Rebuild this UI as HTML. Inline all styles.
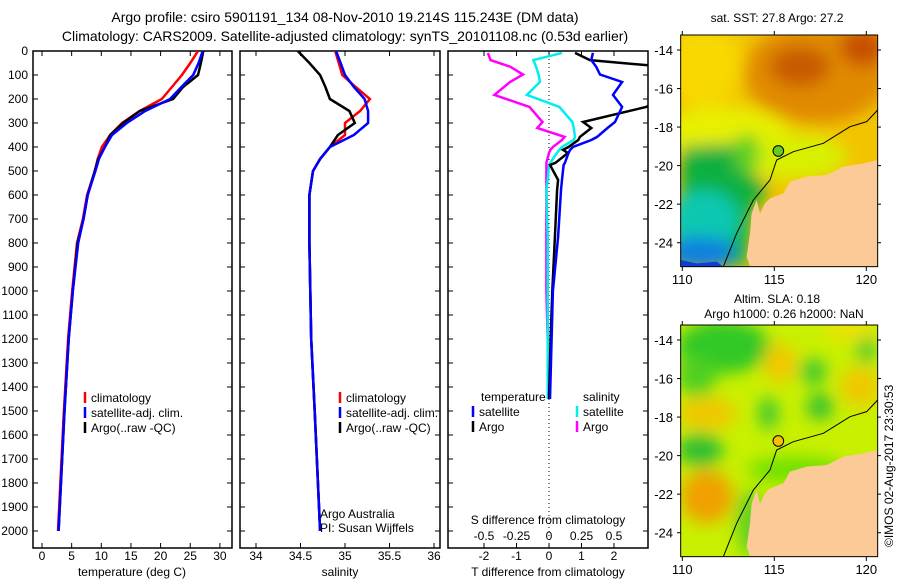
<!DOCTYPE html>
<html><head><meta charset="utf-8">
<style>
body{margin:0;background:#fff;}
svg{display:block;font-family:"Liberation Sans",sans-serif;}
</style></head>
<body>
<svg id="fig" width="900" height="580" viewBox="0 0 900 580" xmlns="http://www.w3.org/2000/svg">
<defs>
<clipPath id="c1"><rect x="33" y="51" width="199" height="497"/></clipPath>
<clipPath id="c2"><rect x="240" y="51" width="200" height="497"/></clipPath>
<clipPath id="c3"><rect x="448" y="51" width="200" height="497"/></clipPath>
<clipPath id="cm"><rect x="92" y="105" width="591" height="695"/></clipPath>
<filter id="bl" x="-50%" y="-50%" width="200%" height="200%"><feGaussianBlur stdDeviation="25"/></filter>
</defs>
<text x="345" y="22" font-size="14" text-anchor="middle">Argo profile: csiro 5901191_134 08-Nov-2010 19.214S 115.243E (DM data)</text>
<text x="345" y="41" font-size="14" text-anchor="middle">Climatology: CARS2009. Satellite-adjusted climatology: synTS_20101108.nc (0.53d earlier)</text>

<!-- Map 1 -->
<g transform="translate(650,0) scale(0.33333)">
<g clip-path="url(#cm)">
<rect x="92" y="105" width="591" height="695" fill="#f2c400"/>
<g filter="url(#bl)">
<ellipse cx="500" cy="220" rx="220" ry="150" fill="#e08a00"/>
<ellipse cx="450" cy="200" rx="90" ry="60" fill="#c85a00"/>
<ellipse cx="640" cy="140" rx="70" ry="60" fill="#c85000"/>
<ellipse cx="160" cy="200" rx="120" ry="120" fill="#f8d800"/>
<ellipse cx="220" cy="400" rx="200" ry="80" fill="#e8f000"/>
<ellipse cx="430" cy="470" rx="160" ry="70" fill="#d8f000"/>
<polygon points="92,440 260,430 300,520 360,570 310,620 290,800 92,800" fill="#10b040"/>
<ellipse cx="160" cy="660" rx="110" ry="90" fill="#10c8b0"/>
<ellipse cx="150" cy="760" rx="110" ry="50" fill="#1080e0"/>
<ellipse cx="290" cy="460" rx="40" ry="60" fill="#60d020"/>
</g>
<polygon points="92,780 140,790 200,785 220,800 92,800" fill="#1040d0"/>
</g>
<polygon points="300,800 290,770 300,700 305,640 320,600 330,640 345,610 360,595 400,580 420,545 470,530 530,525 580,500 640,490 683,480 683,800" fill="#fcca96"/>
<polyline points="220,800 260,700 310,600 360,540 380,480 430,455 520,430 600,380 650,365 683,330" fill="none" stroke="#000" stroke-width="3"/>
<circle cx="385" cy="453" r="16" fill="#66cc22" stroke="#000" stroke-width="3"/>
<rect x="92" y="105" width="591" height="695" fill="none" stroke="#000" stroke-width="3"/>
</g>
<text x="777" y="22" font-size="12" text-anchor="middle">sat. SST: 27.8 Argo: 27.2</text>

<!-- Map 2 -->
<g transform="translate(650,290) scale(0.33333)">
<g clip-path="url(#cm)">
<rect x="92" y="105" width="591" height="695" fill="#c8f000"/>
<g filter="url(#bl)">
<ellipse cx="220" cy="170" rx="140" ry="80" fill="#30c828"/>
<ellipse cx="140" cy="260" rx="60" ry="60" fill="#50d020"/>
<ellipse cx="170" cy="370" rx="90" ry="50" fill="#f0c800"/>
<ellipse cx="150" cy="480" rx="70" ry="50" fill="#30c030"/>
<ellipse cx="170" cy="620" rx="80" ry="80" fill="#f0a000"/>
<ellipse cx="390" cy="220" rx="50" ry="60" fill="#f2c800"/>
<ellipse cx="355" cy="370" rx="30" ry="50" fill="#40c830"/>
<ellipse cx="490" cy="245" rx="40" ry="40" fill="#40c830"/>
<ellipse cx="510" cy="350" rx="40" ry="40" fill="#30c030"/>
<ellipse cx="650" cy="180" rx="30" ry="40" fill="#50c830"/>
<ellipse cx="630" cy="290" rx="60" ry="60" fill="#f0c800"/>
<ellipse cx="600" cy="120" rx="80" ry="30" fill="#f0e000"/>
<ellipse cx="440" cy="540" rx="150" ry="40" fill="#70e000"/>
<ellipse cx="300" cy="700" rx="40" ry="100" fill="#60d020"/>
</g>
</g>
<polygon points="300,800 290,770 300,700 305,640 320,600 330,640 345,610 360,595 400,580 420,545 470,530 530,525 580,500 640,490 683,480 683,800" fill="#fcca96"/>
<polyline points="220,800 260,700 310,600 360,540 380,480 430,455 520,430 600,380 650,365 683,330" fill="none" stroke="#000" stroke-width="3"/>
<circle cx="385" cy="453" r="16" fill="#f8c000" stroke="#000" stroke-width="3"/>
<rect x="92" y="105" width="591" height="695" fill="none" stroke="#000" stroke-width="3"/>
</g>
<text x="777" y="303" font-size="12" text-anchor="middle">Altim. SLA: 0.18</text>
<text x="784" y="318" font-size="12" text-anchor="middle">Argo h1000: 0.26 h2000: NaN</text>
<text transform="translate(893,547) rotate(-90)" font-size="12">©IMOS 02-Aug-2017 23:30:53</text>
<g id="maxes"></g>
<g id="plots"></g>
</svg>
<script>
const NS="http://www.w3.org/2000/svg";
const depths=[0,50,100,150,200,250,300,350,400,450,500,600,700,800,1000,1200,1500,2000];
const tempClim=[26.3,25.0,23.6,21.9,20.2,16.5,13.5,11.5,10.1,9.4,8.9,7.6,6.9,5.9,5.1,4.4,3.7,2.7];
const tempSat=[27.1,26.4,25.5,23.5,21.6,17.4,14.3,11.8,10.6,9.6,9.0,7.7,7.0,6.1,5.2,4.5,3.8,2.8];
const tempArgo=[27.2,26.8,26.3,23.8,22.1,16.5,13.7,11.5,10.6,9.5,8.9,7.7,7.0,6.0,5.2,4.5,3.8,2.8];
const salClim=[34.89,34.93,34.97,35.12,35.28,35.17,35.0,35.0,34.83,34.72,34.64,34.60,34.60,34.60,34.61,34.62,34.66,34.72];
const salSat=[34.9,34.95,35.0,35.1,35.22,35.26,35.26,35.1,34.83,34.72,34.64,34.60,34.60,34.60,34.61,34.62,34.66,34.72];
const salArgo=[34.47,34.6,34.72,34.78,34.83,35.05,35.11,34.92,34.83,34.72,34.64,34.60,34.60,34.60,34.61,34.62,34.66,34.72];
const diffDepths=[8,38,65,98,129,183,233,296,321,358,371,400,412,425,466,475,537,579,775,1000,1200,1450];
const tDiffSat=[1.35,1.3,1.45,1.57,2.25,1.97,2.25,2.03,1.8,1.48,1.3,0.74,0.65,0.6,0.49,0.45,0.4,0.37,0.28,0.12,0.08,0.03];
const tDiffArgo=[0.8,1.26,3.5,3.5,3.5,3.5,3.0,1.05,1.3,0.95,0.9,0.6,0.43,0.58,0.2,0.03,0.28,0.25,0.18,0.1,0.05,0.0];
const sDiffSat=[0.1,-0.12,-0.1,-0.08,-0.07,-0.17,0.08,0.18,0.19,0.2,0.19,0.1,0.08,0.06,0.01,0.0,-0.01,-0.02,-0.01,-0.01,-0.01,-0.01];
const sDiffArgo=[-0.47,-0.45,-0.3,-0.2,-0.3,-0.42,-0.15,-0.05,-0.09,0.12,0.1,0.03,0.01,0.0,-0.02,-0.02,-0.02,-0.02,-0.02,-0.02,-0.01,0.0];
const depthTicks=[0,100,200,300,400,500,600,700,800,900,1000,1100,1200,1300,1400,1500,1600,1700,1800,1900,2000];
const tempTicks=[0,5,10,15,20,25,30];
const salTicks=[34,34.5,35,35.5,36];
const tDiffTicks=[-2,-1,0,1,2];
const sDiffTickLabels=["-0.5","-0.25","0","0.25","0.5"];
const sDiffTicks=[-0.5,-0.25,0,0.25,0.5];

const svg=document.getElementById('fig');
const plots=document.getElementById('plots');
function el(tag,attrs,parent){const e=document.createElementNS(NS,tag);for(const k in attrs)e.setAttribute(k,attrs[k]);(parent||plots).appendChild(e);return e;}
function txt(x,y,s,size,anchor,parent){const t=el('text',{x:x,y:y,'font-size':size,'text-anchor':anchor||'start'},parent);t.textContent=s;return t;}
const Y=d=>51+d*0.24;
const xT=v=>42+v*5.93;
const xS=v=>256+(v-34)*89;
const xTd=v=>549+v*32.5;
const xSd=v=>549+v*130;
const TOP=51,BOT=548;
function panel(x0,x1,name){
  const r=el('rect',{x:x0,y:TOP,width:x1-x0,height:BOT-TOP,fill:'none',stroke:'#000','stroke-width':1.5});
  
  
  depthTicks.forEach(d=>{el('line',{x1:x0,x2:x0+5,y1:Y(d),y2:Y(d),stroke:'#000'});el('line',{x1:x1-5,x2:x1,y1:Y(d),y2:Y(d),stroke:'#000'});});
}
function xticks(ticks,fx,labels,ly){
  ticks.forEach((v,i)=>{const x=fx(v);el('line',{x1:x,x2:x,y1:TOP,y2:TOP+5,stroke:'#000'});el('line',{x1:x,x2:x,y1:BOT-5,y2:BOT,stroke:'#000'});
    const t=txt(x,ly,labels?labels[i]:String(v),12,'middle');
    
    });
}
function line(ds,vals,fx,color,clip,name){
  const pts=ds.map((d,i)=>fx(vals[i]).toFixed(1)+','+Y(d).toFixed(1)).join(' ');
  const p=el('polyline',{points:pts,fill:'none',stroke:color,'stroke-width':2.5,'clip-path':'url(#'+clip+')'});
  
  
}
panel(33,232,'temperature-panel');panel(240,440,'salinity-panel');panel(448,648,'difference-panel');
depthTicks.forEach(d=>{const t=txt(28,Y(d)+4,String(d),12,'end');
  
  });
xticks(tempTicks,xT,null,560);
xticks(salTicks,xS,null,560);
xticks(tDiffTicks,xTd,null,560);
sDiffTicks.forEach((v,i)=>{const t=txt(xSd(v),540,sDiffTickLabels[i],12,'middle');
  
  });
el('line',{x1:xTd(0),x2:xTd(0),y1:TOP,y2:BOT,stroke:'#000','stroke-dasharray':'1,3'});

line(depths,tempClim,xT,'#f00','c1','temp-climatology-line');
line(depths,tempArgo,xT,'#000','c1','temp-argo-line');
line(depths,tempSat,xT,'#00f','c1','temp-satellite-line');
line(depths,salClim,xS,'#f00','c2','sal-climatology-line');
line(depths,salArgo,xS,'#000','c2','sal-argo-line');
line(depths,salSat,xS,'#00f','c2','sal-satellite-line');
line(diffDepths,sDiffArgo,xSd,'#f0f','c3','s-diff-argo-line');
line(diffDepths,sDiffSat,xSd,'#0ee','c3','s-diff-satellite-line');
line(diffDepths,tDiffArgo,xTd,'#000','c3','t-diff-argo-line');
line(diffDepths,tDiffSat,xTd,'#00f','c3','t-diff-satellite-line');

function legend(x,y,items,name){
  items.forEach((it,i)=>{const yy=y+i*15;
    const b=el('line',{x1:x,x2:x,y1:yy-10,y2:yy+1,stroke:it[1],'stroke-width':2.5});
    
    
    const t=txt(x+6,yy,it[0],12,'start');
    
    });
}
legend(85,402,[["climatology","#f00"],["satellite-adj. clim.","#00f"],["Argo(..raw -QC)","#000"]],'temp-legend');
legend(340,402,[["climatology","#f00"],["satellite-adj. clim.","#00f"],["Argo(..raw -QC)","#000"]],'sal-legend');
let t;
t=txt(481,401,"temperature",12);
t=txt(583,401,"salinity",12);
legend(473,416,[["satellite","#00f"],["Argo","#000"]],'tdiff-legend');
legend(577,416,[["satellite","#0ee"],["Argo","#f0f"]],'sdiff-legend');
t=txt(320,518,"Argo Australia",12);
t=txt(320,532,"PI: Susan Wijffels",12);
t=txt(548,524,"S difference from climatology",12,'middle');
t=txt(132,576,"temperature (deg C)",12,'middle');
t=txt(340,576,"salinity",12,'middle');
t=txt(548,576,"T difference from climatology",12,'middle');

// map axes
const maxes=document.getElementById('maxes');
const lonX=v=>682.3+(v-110)*18.4;
const latYs=[-14,-16,-18,-20,-22,-24];
const lonTs=[110,115,120];
[0,290].forEach(off=>{
  latYs.forEach(l=>{const y=off+50+(-14-l)*19.27;
    el('line',{x1:677,x2:681,y1:y,y2:y,stroke:'#000'},maxes);
    el('line',{x1:877,x2:881,y1:y,y2:y,stroke:'#000'},maxes);
    const tt=txt(673,y+5,String(l),13,'end',maxes);
    
    });
  lonTs.forEach(v=>{const x=lonX(v);
    el('line',{x1:x,x2:x,y1:off+31,y2:off+35,stroke:'#000'},maxes);
    el('line',{x1:x,x2:x,y1:off+267,y2:off+271,stroke:'#000'},maxes);
    const tt=txt(x,off+284,String(v),13,'middle',maxes);
    
    });
});
</script>
</body></html>
